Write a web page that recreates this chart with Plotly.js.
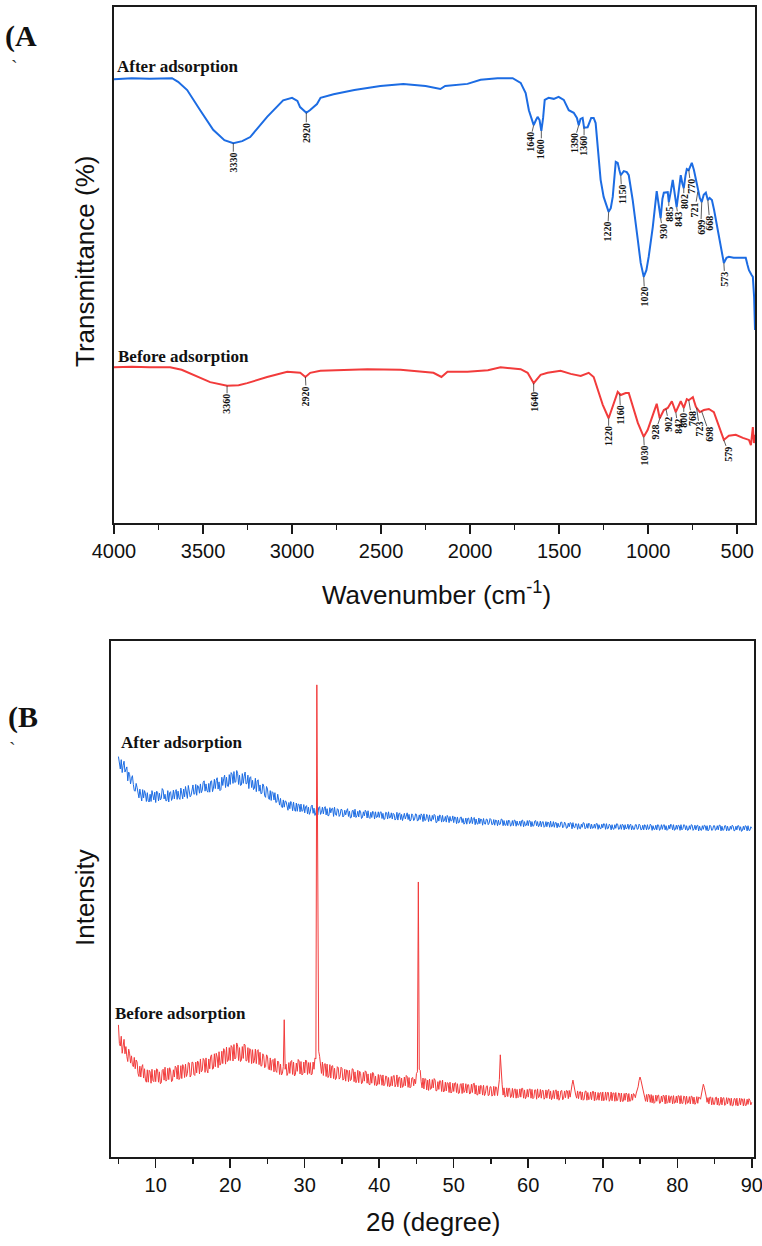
<!DOCTYPE html>
<html>
<head>
<meta charset="utf-8">
<script src="https://cdn.plot.ly/plotly-3.0.1.min.js"></script>
<style>html,body{margin:0;padding:0;background:#fff;}#chart{width:762px;height:1246px;}</style>
</head>
<body>
<div id="chart"></div>
<script>
// ---------------- DATA ----------------
// (A) FTIR, after adsorption
const ftirAfterWn = [4000,3900,3800,3700,3674,3640,3589,3516,3443,3380,
  3330,3280,3235,3140,3050,3000,2970,2955,2935,2920,
  2900,2880,2860,2840,2767,2650,2504,2375,2250,2167,
  2140,2015,1941,1846,1761,1716,1688,1670,1655,1643,
  1630,1621,1610,1600,1590,1581,1559,1530,1503,1474,
  1446,1418,1400,1390,1380,1368,1360,1340,1320,1306,
  1295,1283,1267,1250,1235,1222,1210,1199,1182,1171,
  1162,1154,1137,1120,1109,1087,1058,1042,1025,1010,
  997,974,952,940,930,920,912,890,884,872,
  862,850,840,828,817,808,800,790,783,772,
  755,743,732,720,710,699,688,676,665,655,
  642,630,620,603,590,575,560,547,520,480,
  452,442,434,420,412,405,400];
const ftirAfterT = [86.0,86.2,86.1,86.2,86.2,85.5,83.9,80.0,76.2,74.2,
  73.6,74.0,74.8,78.7,81.9,82.4,81.8,80.6,80.0,79.5,
  80.0,80.6,81.2,82.4,83.1,83.9,84.7,85.1,84.7,84.1,
  84.7,85.1,85.9,86.2,86.2,85.3,83.3,80.0,78.1,77.1,
  78.1,78.7,78.1,76.0,78.5,82.0,82.4,82.2,82.6,82.0,
  80.0,79.5,78.5,77.1,78.3,78.5,76.6,76.7,78.5,78.5,
  77.5,72.3,66.5,63.2,61.6,60.3,61.0,63.2,70.0,69.8,
  68.4,67.4,68.2,68.0,67.4,62.6,54.8,50.4,47.7,49.0,
  51.6,57.4,64.3,61.6,59.1,62.8,64.0,64.1,62.2,64.4,
  66.5,63.6,61.2,64.4,67.4,65.8,64.9,67.4,68.6,68.4,
  69.8,68.4,66.5,64.0,63.0,62.2,63.6,64.0,62.6,63.0,
  62.6,60.7,58.7,55.4,52.9,50.4,51.4,51.6,51.4,51.4,
  51.4,50.0,49.0,48.1,47.7,43.8,37.4];
// (A) FTIR, before adsorption
const ftirBeforeWn = [4000,3900,3800,3685,3620,3556,3460,3365,3300,3252,
  3140,3027,2954,2925,2898,2841,2700,2577,2391,2206,
  2161,2127,2015,1900,1829,1716,1677,1643,1604,1565,
  1492,1435,1379,1334,1306,1283,1255,1222,1193,1171,
  1154,1126,1109,1087,1058,1025,1003,974,952,935,
  912,890,867,845,817,800,783,772,749,732,
  710,687,659,631,603,575,547,508,468,434,
  423,412,406,400];
const ftirBeforeT = [30.2,30.3,30.2,30.2,29.7,28.7,27.3,26.6,26.7,27.1,
  28.3,29.3,29.1,28.3,29.1,29.5,29.6,29.8,29.7,29.1,
  28.3,29.3,29.3,29.6,30.2,29.8,29.1,27.1,28.7,29.1,
  29.5,28.9,28.5,29.1,28.3,25.8,22.9,20.3,23.3,25.4,
  24.8,25.2,25.2,22.5,19.4,16.7,18.0,20.9,23.1,20.3,
  21.9,22.3,23.6,21.5,23.6,22.3,24.0,23.8,24.4,22.5,
  21.5,21.9,22.1,21.5,18.6,16.1,16.9,17.1,16.5,16.1,
  15.1,18.6,15.5,17.1];
// peak labels
const afterPeakLabels  = ['3330','2920','1640','1600','1390','1360','1220','1150','1020','930','885','843','802','770','721','699','668','573'];
const afterPeakWn      = [3330,2920,1643,1600,1390,1360,1222,1154,1025,930,884,840,800,772,721,699,665,575];
const beforePeakLabels = ['3360','2920','1640','1220','1160','1030','928','902','842','800','768','723','698','579'];
const beforePeakWn     = [3365,2925,1643,1222,1160,1025,932,900,845,800,772,728,700,575];

// (B) XRD, 2θ sampled from 5 to 90 in 0.125° steps (one row = 5°)
const xrdStart = 5, xrdStep = 0.125;
const xrdAfter = [
 77.6,75.6,75.2,77.0,74.5,75.9,76.7,74.6,75.3,75.6,72.9,74.6,74.1,72.3,73.4,73.9,72.2,71.0,70.9,72.4,71.6,70.0,69.6,71.3,69.8,69.0,71.2,69.6,71.0,70.4,68.9,70.6,69.0,68.8,70.3,68.9,71.0,69.7,69.2,70.7,
 68.7,70.9,70.7,69.0,70.5,69.2,69.5,71.4,71.1,69.4,70.3,69.0,69.1,71.0,68.8,70.6,70.8,69.1,69.6,71.1,69.4,70.8,71.2,69.3,70.9,69.6,69.3,71.5,70.2,69.4,71.3,69.8,71.8,70.0,69.5,72.0,71.2,69.8,70.1,71.6,
 72.1,70.3,70.4,72.2,70.1,72.0,71.7,70.5,72.3,70.6,71.1,72.6,72.9,70.9,72.3,71.0,70.7,72.4,70.7,72.8,72.9,70.8,71.5,73.2,71.4,73.0,73.5,71.3,72.7,71.0,71.2,73.6,72.0,73.3,74.0,71.6,73.6,71.9,71.8,74.1,
 72.2,74.5,74.2,72.4,74.7,72.6,72.7,74.9,74.3,72.2,74.0,72.0,72.1,74.3,72.4,73.8,74.6,72.3,72.4,74.0,71.4,73.5,73.7,71.6,73.0,71.2,71.5,73.4,70.8,72.9,73.1,70.9,72.1,70.4,70.5,72.3,71.9,70.0,69.7,71.8,
 71.3,69.6,69.3,71.0,69.1,70.8,70.6,69.2,70.6,68.7,68.8,70.3,69.5,68.2,69.5,67.9,67.7,69.2,67.8,69.0,68.9,67.5,67.2,68.7,67.5,68.9,68.5,67.1,68.8,67.3,67.0,68.6,67.0,68.4,68.3,66.9,68.4,67.0,67.1,68.3,
 66.7,67.9,68.1,66.5,67.8,66.4,66.9,68.0,68.2,66.6,67.6,66.2,66.7,68.0,66.3,67.7,67.9,66.4,66.8,67.8,66.5,67.6,67.9,66.3,67.5,66.1,66.2,67.7,66.7,67.5,67.6,66.0,67.8,66.4,66.2,67.5,67.3,66.0,66.3,67.4,
 67.3,65.9,66.1,67.2,66.3,67.1,67.5,66.0,67.0,65.7,65.8,67.1,67.2,65.9,67.4,65.8,66.1,67.0,65.9,67.2,66.9,65.6,65.8,66.9,66.1,67.2,66.9,65.7,67.1,65.8,65.6,66.8,65.8,67.0,66.8,65.5,66.9,65.8,65.9,66.9,
 65.8,66.8,66.9,65.6,66.6,65.4,65.5,66.8,66.7,65.5,66.9,65.7,65.8,66.7,65.5,66.6,66.4,65.3,65.6,66.8,65.3,66.5,66.7,65.4,66.4,65.2,65.7,66.6,65.5,66.4,66.7,65.4,66.4,65.1,65.3,66.5,66.2,65.2,65.5,66.5,
 66.4,65.1,65.3,66.3,65.4,66.5,66.2,65.0,66.5,65.2,65.3,66.4,66.0,65.0,66.3,65.2,65.1,66.2,65.4,66.4,66.2,64.8,64.9,66.1,65.1,66.3,66.0,64.9,66.2,65.0,65.2,66.0,64.9,66.2,65.8,64.8,66.0,65.1,65.2,66.1,
 64.8,65.9,65.8,64.6,65.9,64.7,64.9,65.8,65.9,64.8,65.6,64.5,64.8,65.7,64.5,65.6,65.7,64.6,64.9,65.9,64.6,65.6,65.8,64.4,65.5,64.6,64.5,65.7,64.6,65.5,65.4,64.3,65.6,64.6,64.5,65.5,65.4,64.4,64.7,65.6,
 65.4,64.4,64.5,65.4,64.3,65.3,65.2,64.2,65.3,64.4,64.5,65.5,65.4,64.2,65.2,64.3,64.3,65.2,64.2,65.3,65.1,64.1,64.4,65.2,64.2,65.3,65.2,64.1,65.1,64.3,64.4,65.1,64.1,65.2,65.3,64.0,65.0,64.2,64.3,65.2,
 64.2,65.2,65.1,64.0,65.0,64.1,64.2,65.1,65.2,64.2,65.0,64.0,64.3,65.1,64.0,64.9,65.0,63.9,64.1,65.0,64.0,64.9,64.8,63.9,65.1,64.0,64.1,65.0,63.9,64.8,64.8,63.8,64.7,64.0,64.0,64.9,64.9,63.8,64.0,64.9,
 64.6,63.7,63.8,64.7,64.0,64.8,64.7,63.6,64.8,63.9,63.8,64.6,64.5,63.5,64.6,63.7,63.6,64.5,63.9,64.8,64.7,63.6,63.8,64.6,63.7,64.7,64.5,63.6,64.5,63.7,63.8,64.5,63.7,64.6,64.6,63.5,64.4,63.7,63.6,64.5,
 63.8,64.6,64.5,63.5,64.6,63.6,63.7,64.5,64.3,63.4,64.4,63.6,63.5,64.4,63.7,64.6,64.5,63.5,63.6,64.4,63.5,64.5,64.3,63.4,64.4,63.6,63.7,64.5,63.5,64.3,64.5,63.4,64.2,63.5,63.5,64.4,64.4,63.5,63.6,64.5,
 64.3,63.4,63.5,64.3,63.4,64.4,64.2,63.4,64.4,63.5,63.6,64.5,64.3,63.3,64.2,63.5,63.5,64.3,63.4,64.4,64.3,63.3,63.6,64.4,63.5,64.3,64.4,63.4,64.2,63.3,63.5,64.3,63.6,64.5,64.3,63.4,64.4,63.3,63.5,64.3,
 63.5,64.3,64.2,63.3,64.4,63.4,63.6,64.4,64.3,63.4,64.2,63.3,63.4,64.2,63.5,64.4,64.3,63.3,63.6,64.3,63.4,64.2,64.3,63.2,64.1,63.4,63.3,64.2,63.5,64.3,64.2,63.3,64.2,63.2,63.4,64.3,64.1,63.3,63.4,64.2,
 64.2,63.3,63.5,64.2,63.4,64.3,64.3,63.2,64.1,63.3,63.4,64.2,64.2,63.2,64.1,63.3,63.3,64.1,63.5,64.3,64.1,63.2,63.3,64.1,63.4,64.2,64.2,63.3,64.0,63.1,63.3,64.1,63.4,64.2,64.1,63.2,64.2,63.3,63.3,64.0,
 63.7];
const xrdBefore = [
 25.6,22.0,21.5,23.4,20.1,22.2,22.8,20.0,21.4,19.5,18.5,20.9,20.0,18.2,19.6,17.9,17.5,19.3,17.1,18.8,18.4,16.2,15.6,17.6,15.5,17.4,17.9,15.3,17.1,14.9,14.5,16.9,14.5,16.8,16.5,14.3,17.0,14.8,14.6,16.8,
 14.6,17.1,16.9,14.5,16.5,14.2,14.4,16.8,17.0,14.9,17.4,14.7,15.0,17.2,15.0,17.3,16.7,14.6,14.8,16.9,15.5,17.6,17.3,15.1,17.8,15.0,15.3,17.7,15.2,17.9,17.5,15.4,18.0,15.6,16.2,18.3,18.2,15.5,15.9,18.4,
 18.3,16.0,15.8,18.4,16.3,18.6,18.2,16.1,19.0,16.5,16.8,19.1,18.8,16.4,19.2,16.9,16.3,19.0,17.1,19.5,19.8,17.0,17.2,20.0,17.5,20.1,19.4,17.3,20.4,17.8,18.2,20.5,18.1,21.0,20.6,18.0,21.3,18.5,18.8,21.2,
 18.7,21.6,21.3,18.6,21.8,19.0,19.2,22.1,21.5,18.7,21.2,18.5,18.8,21.4,19.1,21.9,21.7,18.6,18.7,21.2,18.3,21.0,20.8,18.1,20.8,18.2,18.7,20.9,18.1,20.6,20.8,17.9,20.3,17.6,17.7,20.0,19.6,17.3,17.5,19.8,
 19.5,17.1,16.9,19.2,16.8,18.7,18.9,16.5,19.1,16.7,16.4,18.6,18.4,16.0,18.0,15.9,16.2,17.5,26.6,17.0,18.0,15.8,16.3,18.3,16.2,18.5,18.7,16.0,18.4,15.7,16.0,18.2,16.6,18.9,18.6,16.1,18.5,15.9,16.1,18.4,
 16.3,18.8,18.6,16.0,18.3,16.2,18.3,15.9,16.1,18.4,17.0,19.2,19.0,91.5,45.0,20.5,19.5,17.6,16.2,18.4,15.8,18.0,18.1,15.6,18.0,15.4,15.7,17.9,15.3,17.6,17.7,15.2,17.2,15.0,15.3,17.5,17.3,15.1,15.4,17.4,
 17.2,14.9,15.1,17.0,14.7,16.9,16.7,14.6,16.8,14.8,15.0,17.1,17.0,14.6,16.5,14.4,14.9,16.8,14.4,16.6,16.2,14.2,14.4,16.4,14.7,16.7,16.5,14.3,16.1,14.1,14.0,16.2,14.3,16.4,16.1,13.9,15.7,13.8,14.0,16.0,
 14.1,15.9,15.8,13.9,15.9,13.8,14.1,15.7,15.6,13.7,15.4,13.6,13.8,15.6,13.8,15.7,15.8,13.6,14.1,15.9,13.6,15.4,15.5,13.4,15.3,13.5,13.8,15.5,13.8,15.8,15.6,13.5,15.4,13.4,13.6,15.3,15.4,13.8,15.1,14.2,
 16.2,16.5,53.3,17.0,16.8,14.6,13.4,15.3,13.2,15.2,15.1,13.0,14.9,12.9,15.1,13.1,13.3,15.0,13.4,15.2,14.9,12.8,12.9,14.6,13.1,14.8,14.7,12.7,14.9,12.6,12.8,14.5,12.8,14.4,14.3,12.5,14.5,12.4,12.6,14.3,
 12.7,14.3,14.4,12.5,14.2,12.3,12.4,14.1,14.2,12.3,14.3,12.5,12.8,14.2,12.4,14.0,14.0,12.2,12.4,14.1,12.5,14.2,14.3,12.2,13.9,12.0,12.1,13.8,12.2,13.9,13.7,12.0,13.9,11.9,12.3,13.7,13.8,11.9,12.0,13.6,
 13.6,11.8,12.0,13.7,11.9,13.6,13.5,11.9,13.5,15.0,19.8,15.5,14.0,12.0,13.4,11.6,11.8,13.4,11.7,13.3,13.3,11.5,11.8,13.3,11.5,13.1,13.2,11.4,13.1,11.5,11.7,13.2,11.6,13.3,13.3,11.4,13.0,11.3,11.7,13.1,
 11.6,13.1,13.2,11.4,13.1,11.3,11.5,13.0,13.0,11.2,13.2,11.5,11.7,13.1,11.4,12.9,12.9,11.2,11.5,13.0,11.4,12.8,13.1,11.3,12.8,11.1,11.6,12.9,11.3,12.9,13.0,11.2,12.8,11.0,11.5,12.8,12.9,11.1,11.4,12.8,
 11.5,12.9,12.8,11.3,12.9,11.6,13.2,14.0,14.9,13.8,12.6,12.0,11.4,12.8,11.3,12.6,12.7,11.1,12.6,11.0,11.2,12.7,12.8,11.0,12.5,11.1,11.3,12.6,11.1,12.7,12.7,10.9,12.6,11.0,11.2,12.5,11.0,12.4,12.5,10.9,
 12.6,10.9,11.1,12.6,11.0,12.5,12.5,10.8,11.2,12.6,10.9,12.4,12.4,10.8,12.5,10.9,11.0,12.4,12.3,10.7,12.4,10.8,10.8,12.3,11.0,12.4,12.2,10.7,12.3,10.8,10.9,12.2,11.0,12.3,12.1,11.5,12.4,12.9,13.6,14.8,
 15.5,14.9,13.8,13.0,12.4,11.6,10.8,12.1,10.7,12.2,12.0,10.6,12.1,10.5,11.9,10.4,10.6,12.0,10.8,11.9,12.0,10.4,10.5,11.8,10.7,12.0,11.8,10.3,12.0,10.4,10.6,11.9,10.5,11.7,11.8,10.3,11.9,10.4,10.6,11.8,
 10.5,11.9,11.8,10.3,11.9,10.4,10.4,11.8,11.7,10.2,11.8,10.4,10.6,11.7,10.3,11.8,11.7,10.3,11.6,10.2,10.5,11.7,10.4,11.6,11.5,11.2,12.0,13.2,14.1,13.5,12.8,11.8,10.6,11.5,10.3,11.6,11.6,10.1,11.5,10.2,
 10.2,11.5,11.6,10.1,11.4,10.0,10.3,11.6,10.1,11.4,11.5,10.0,10.2,11.5,10.3,11.4,11.3,10.0,11.4,9.9,10.0,11.3,11.3,10.0,11.4,9.9,10.2,11.4,10.1,11.3,11.2,9.9,11.3,10.0,10.0,11.2,10.2,11.3,11.0,10.1,
 10.6];

// ---------------- LAYOUT HELPERS ----------------
const W = 762, H = 1246;
const BLUE = '#1c6ce3', RED = '#f23b3b', AX = '#1a1a1a';
const px = (x, y) => ({x: x / W, y: 1 - y / H});

const xrdX = xrdAfter.map((_, i) => xrdStart + xrdStep * i);

function valueAt(xs, ys, x) {
  for (let i = 0; i < xs.length - 1; i++) {
    const a = xs[i], b = xs[i + 1];
    if ((x <= a && x >= b) || (x >= a && x <= b)) {
      const t = (x - a) / (b - a || 1);
      return ys[i] + t * (ys[i + 1] - ys[i]);
    }
  }
  return ys[ys.length - 1];
}

const traces = [
  {x: ftirAfterWn, y: ftirAfterT, xaxis: 'x', yaxis: 'y', mode: 'lines', line: {color: BLUE, width: 2}, hoverinfo: 'skip'},
  {x: ftirBeforeWn, y: ftirBeforeT, xaxis: 'x', yaxis: 'y', mode: 'lines', line: {color: RED, width: 2}, hoverinfo: 'skip'},
  {x: xrdX, y: xrdAfter, xaxis: 'x2', yaxis: 'y2', mode: 'lines', line: {color: BLUE, width: 1}, hoverinfo: 'skip'},
  {x: xrdX, y: xrdBefore, xaxis: 'x2', yaxis: 'y2', mode: 'lines', line: {color: RED, width: 1}, hoverinfo: 'skip'}
];

// offsets (pixels) of the rotated peak labels from the curve
const afterOff = [[0,19],[0,20],[-4,17],[0,18],[-5,18],[0,18],[-1,20],[1,19],[1,20],[2,13],[0,12],[2,12],[0,13],[2,16],[-3,18],[-1,25],[2,23],[1,16]];
const beforeOff = [[0,18],[1,19],[0,19],[0,18],[1,21],[1,19],[-5,15],[3,15],[2,14],[0,12],[3,18],[3,21],[8,23],[5,14]];

const ann = [];
function peak(label, wn, xs, ys, off) {
  ann.push({
    xref: 'x', yref: 'y', x: wn, y: valueAt(xs, ys, wn),
    text: '<b>' + label + '</b>', textangle: -90,
    showarrow: true, arrowhead: 0, arrowwidth: 0.8, arrowcolor: '#333',
    ax: off[0], ay: off[1], standoff: 0, borderpad: 0,
    font: {family: 'Liberation Serif, Times New Roman, serif', size: 10, color: '#111'}
  });
}
afterPeakLabels.forEach((l, i) => peak(l, afterPeakWn[i], ftirAfterWn, ftirAfterT, afterOff[i]));
beforePeakLabels.forEach((l, i) => peak(l, beforePeakWn[i], ftirBeforeWn, ftirBeforeT, beforeOff[i]));

function txt(text, x, y, opts) {
  const p = px(x, y);
  ann.push(Object.assign({
    xref: 'paper', yref: 'paper', x: p.x, y: p.y, text: text, showarrow: false,
    xanchor: 'left', yanchor: 'middle',
    font: {family: 'Liberation Serif, Times New Roman, serif', size: 17, color: '#111'}
  }, opts || {}));
}
const serifBig = {family: 'Liberation Serif, Times New Roman, serif', size: 30, color: '#111'};
const sans = {family: 'Liberation Sans, Arial, sans-serif', size: 26, color: '#111'};
const tick = {family: 'Liberation Serif, serif', size: 20, color: '#333'};

txt('<b>(A</b>', 3, 36, {font: serifBig});
txt('`', 9, 68, {font: tick});
txt('<b>After adsorption</b>', 115, 67);
txt('<b>Before adsorption</b>', 116, 357);
txt('Transmittance (%)', 85, 262, {xanchor: 'center', textangle: -90, font: sans});
txt('Wavenumber (cm<sup>-1</sup>)', 436, 593, {xanchor: 'center', font: sans});

txt('<b>(B</b>', 6, 717, {font: serifBig});
txt('`', 7, 750, {font: tick});
txt('<b>After adsorption</b>', 119, 743);
txt('<b>Before adsorption</b>', 113, 1013);
txt('Intensity', 85, 898, {xanchor: 'center', textangle: -90, font: sans});
txt('2θ (degree)', 433, 1222, {xanchor: 'center', font: sans});

const tickFont = {family: 'Liberation Sans, Arial, sans-serif', size: 20, color: '#111'};
const xCommon = {
  showline: true, linecolor: AX, linewidth: 2, mirror: true,
  ticks: 'outside', ticklen: 9, tickwidth: 1.5, tickcolor: AX,
  showgrid: false, zeroline: false, tickfont: tickFont, fixedrange: true,
  ticklabeloverflow: 'allow'
};
const yCommon = {
  showline: true, linecolor: AX, linewidth: 2, mirror: true,
  ticks: '', showticklabels: false, showgrid: false, zeroline: false, range: [0, 100], fixedrange: true
};

const layout = {
  width: W, height: H, margin: {l: 0, r: 0, t: 0, b: 0},
  paper_bgcolor: '#fff', plot_bgcolor: '#fff', showlegend: false,
  xaxis: Object.assign({}, xCommon, {
    domain: [114 / W, 755 / W], anchor: 'y', range: [4000, 400], tick0: 0, dtick: 500,
    minor: {ticks: 'outside', ticklen: 5, tickwidth: 1.5, tickcolor: AX, dtick: 250, tick0: 0, showgrid: false}
  }),
  yaxis: Object.assign({}, yCommon, {domain: [1 - 523 / H, 1 - 7 / H], anchor: 'x'}),
  xaxis2: Object.assign({}, xCommon, {
    domain: [111 / W, 754 / W], anchor: 'y2', range: [4, 90.3], tick0: 0, dtick: 10,
    minor: {ticks: 'outside', ticklen: 5, tickwidth: 1.5, tickcolor: AX, dtick: 5, tick0: 0, showgrid: false}
  }),
  yaxis2: Object.assign({}, yCommon, {domain: [1 - 1157 / H, 1 - 641 / H], anchor: 'x2'}),
  annotations: ann
};

Plotly.newPlot('chart', traces, layout, {displayModeBar: false, staticPlot: true});
</script>
</body>
</html>
